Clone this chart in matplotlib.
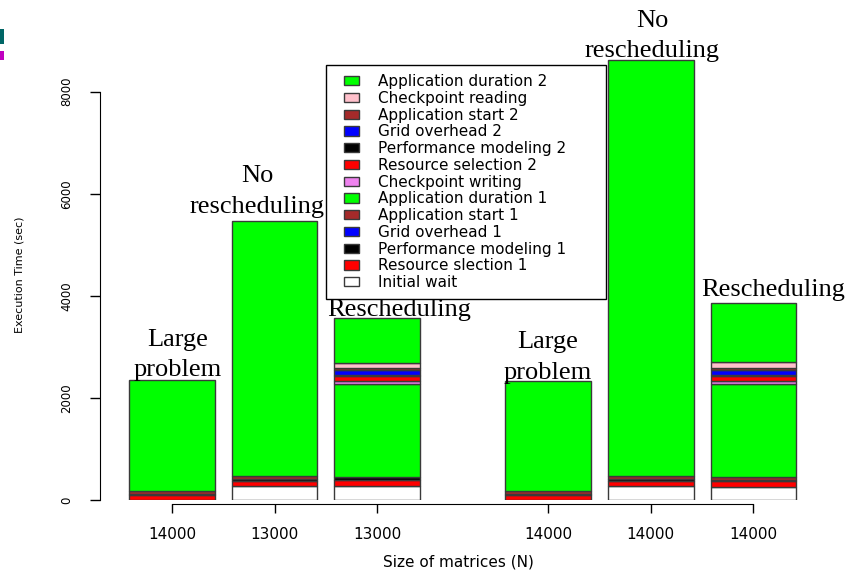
import matplotlib
matplotlib.use("Agg")
import matplotlib.pyplot as plt
from matplotlib.patches import Patch, Rectangle
from matplotlib.legend_handler import HandlerPatch

# ---- data ----
tick_labels = ["14000", "13000", "13000", "14000", "14000", "14000"]
positions = [0.7, 1.9, 3.1, 5.1, 6.3, 7.5]

components = ["Initial wait", "Resource slection 1", "Performance modeling 1",
              "Grid overhead 1", "Application start 1", "Application duration 1",
              "Checkpoint writing", "Resource selection 2", "Performance modeling 2",
              "Grid overhead 2", "Application start 2", "Checkpoint reading",
              "Application duration 2"]
comp_colors = ["#FFFFFF", "#FF0000", "#000000", "#0000FF", "#A52A2A", "#00FF00",
               "#EE82EE", "#FF0000", "#000000", "#0000FF", "#A52A2A", "#FFC0CB",
               "#00FF00"]

initial_wait   = [0,   275, 270, 0,   275, 260]
res_sel_1      = [100, 100, 118, 100, 100, 105]
perf_mod_1     = [20,  30,  65,  20,  30,  35]
grid_ovh_1     = [0,   0,   0,   0,   0,   0]
app_start_1    = [60,  60,  5,   60,  60,  55]
app_dur_1      = [2170, 5005, 1815, 2160, 8155, 1816]
ckpt_write     = [0,   0,   50,  0,   0,   51]
res_sel_2      = [0,   0,   98,  0,   0,   98]
perf_mod_2     = [0,   0,   33,  0,   0,   33]
grid_ovh_2     = [0,   0,   92,  0,   0,   98]
app_start_2    = [0,   0,   40,  0,   0,   40]
ckpt_read      = [0,   0,   90,  0,   0,   110]
app_dur_2      = [0,   0,   884, 0,   0,   1164]

series = [initial_wait, res_sel_1, perf_mod_1, grid_ovh_1, app_start_1, app_dur_1,
          ckpt_write, res_sel_2, perf_mod_2, grid_ovh_2, app_start_2, ckpt_read,
          app_dur_2]

annotations = ["Large\nproblem", "No\nrescheduling", "Rescheduling",
               "Large\nproblem", "No\nrescheduling", "Rescheduling"]
annot_x = [0.77, 1.694, 3.355, 5.098, 6.314, 7.73]
annot_y = [2840, 6043, 3722, 2791, 9089, 4114]

# ---- figure ----
W, H = 853, 572
fig = plt.figure(figsize=(W / 100, H / 100), dpi=100)
px_per_unit = 85.5
x0_px = 172 - 0.7 * px_per_unit
xmax = 8.2
ymax = 9400
ppk = 51.05  # px per 1000
ax = fig.add_axes([x0_px / W, (H - 500) / H, xmax * px_per_unit / W, ymax / 1000 * ppk / H])
ax.set_xlim(0, xmax)
ax.set_ylim(0, ymax)

bottoms = [0] * len(positions)
for vals, col in zip(series, comp_colors):
    xs = [p for p, v in zip(positions, vals) if v > 0]
    hs = [v for v in vals if v > 0]
    bs = [b for b, v in zip(bottoms, vals) if v > 0]
    if xs:
        ax.bar(xs, hs, width=1.0, bottom=bs, color=col,
               edgecolor="#3a3a3a", linewidth=1.0, align="center")
    bottoms = [b + v for b, v in zip(bottoms, vals)]

for t, x, y in zip(annotations, annot_x, annot_y):
    ax.text(x, y, t, ha="center", va="center", family="Liberation Serif",
            fontsize=19, linespacing=1.5, clip_on=False)

# axes styling (R-like)
for s in ["top", "right"]:
    ax.spines[s].set_visible(False)
ax.spines["left"].set_bounds(0, 8000)
ax.spines["left"].set_position(("outward", 8.8))
ax.spines["bottom"].set_bounds(positions[0], positions[-1])
ax.spines["bottom"].set_position(("outward", 3.1))
ax.set_yticks([0, 2000, 4000, 6000, 8000])
ax.set_yticklabels(["0", "2000", "4000", "6000", "8000"], rotation=90, va="center")
ax.set_xticks(positions)
ax.set_xticklabels(tick_labels)
ax.tick_params(axis="y", length=7.2, width=1, pad=12, labelsize=8.5)
ax.tick_params(axis="x", length=6.5, width=1, pad=10, labelsize=11)

fig.text(20 / W, 1 - 275 / H, "Execution Time (sec)", rotation=90, ha="center",
         va="center", fontsize=8)
fig.text(458 / W, 1 - 562 / H, "Size of matrices (N)", ha="center", va="center",
         fontsize=11)


# legend
def small_box(legend, orig_handle, xdescent, ydescent, width, height, fontsize):
    shift = width * 8.8 / 24.0
    w = width * 15.0 / 24.0
    return Rectangle((-xdescent + shift, -ydescent), w, height)


handles = [Patch(facecolor=c, edgecolor="#3a3a3a", linewidth=1) for c in comp_colors]
leg = ax.legend(handles[::-1], components[::-1], loc="upper left",
                bbox_to_anchor=(326 / W, 1 - 65 / H, 280 / W, 0.0),
                bbox_transform=fig.transFigure, mode="expand",
                fontsize=11, frameon=True, fancybox=False, framealpha=1,
                edgecolor="black", handlelength=1.57, handleheight=0.55,
                handletextpad=1.24, labelspacing=0.115, borderpad=0.6,
                borderaxespad=0,
                handler_map={Patch: HandlerPatch(patch_func=small_box)})
leg.get_frame().set_linewidth(1)

# small colour marks at the top-left edge
fig.patches.append(Rectangle((0, 1 - 44 / H), 4 / W, 15 / H, transform=fig.transFigure,
                             facecolor="#006666", edgecolor="none"))
fig.patches.append(Rectangle((0, 1 - 60 / H), 4 / W, 9 / H, transform=fig.transFigure,
                             facecolor="#C000C0", edgecolor="none"))

fig.savefig("out.png", dpi=100)
